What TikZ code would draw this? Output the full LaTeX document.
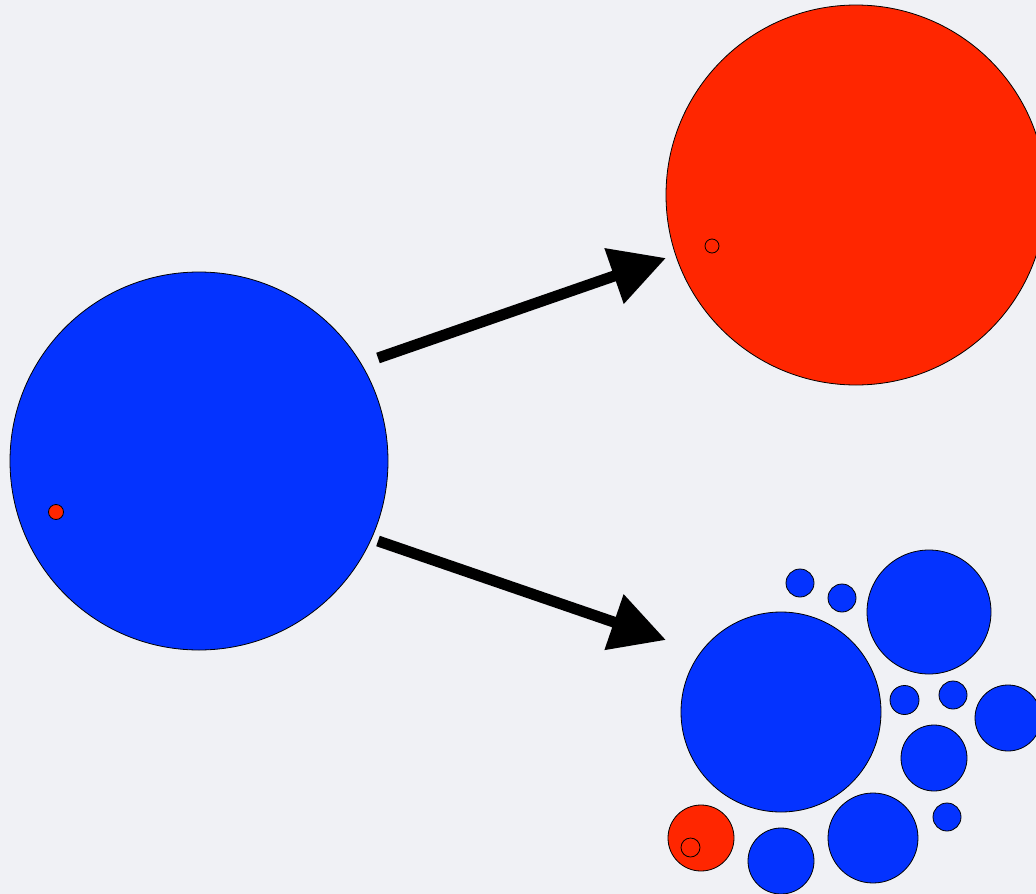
\documentclass[tikz,border=0pt]{standalone}
\usetikzlibrary{arrows.meta}
\definecolor{bgcol}{HTML}{F0F1F5}
\definecolor{bluefill}{HTML}{0433FF}
\definecolor{redfill}{HTML}{FF2600}
\tikzset{
  bluedisc/.style={circle, draw=black, line width=0.8pt, fill=bluefill, inner sep=0pt, minimum size=#1},
  reddisc/.style={circle, draw=black, line width=0.8pt, fill=redfill, inner sep=0pt, minimum size=#1},
  ring/.style={circle, draw=black, line width=0.8pt, inner sep=0pt, minimum size=#1},
  bigarrow/.style={line width=11pt, -{Triangle[length=55pt, width=56pt]}},
}
\begin{document}
\begin{tikzpicture}[x=1pt, y=-1pt]
  \fill[bgcol] (0,0) rectangle (1036,894);
  \useasboundingbox (0,0) rectangle (1036,894);
  \begin{scope}
    \clip (0,0) rectangle (1036,894);
    % source population
    \node[bluedisc=378pt] (src) at (199,461) {};
    \node[reddisc=15pt] (srcdot) at (56,512) {};
    % upper outcome
    \node[reddisc=380pt] (top) at (856,195) {};
    \node[ring=14pt] (topdot) at (712,246) {};
    % lower outcome: scattered pieces
    \node[bluedisc=200pt] (b1) at (781,712) {};
    \node[bluedisc=124pt] (b2) at (929,612) {};
    \node[bluedisc=28pt] (b3) at (800,583) {};
    \node[bluedisc=28pt] (b4) at (842,598) {};
    \node[bluedisc=29pt] (b5) at (904.5,700) {};
    \node[bluedisc=28pt] (b6) at (953,695) {};
    \node[bluedisc=66pt] (b7) at (1008,718) {};
    \node[bluedisc=66pt] (b8) at (934,758) {};
    \node[bluedisc=28pt] (b9) at (947,817) {};
    \node[bluedisc=90pt] (b10) at (873,838) {};
    \node[bluedisc=66pt] (b11) at (781,861) {};
    \node[reddisc=66pt] (r1) at (701,838) {};
    \node[ring=19pt] (r1dot) at (690.5,847.5) {};
    % arrows
    \coordinate (upfrom) at (378,358);
    \coordinate (upto) at (666,258);
    \coordinate (downfrom) at (378,541);
    \coordinate (downto) at (666,640);
    \draw[bigarrow] (upfrom) -- (upto);
    \draw[bigarrow] (downfrom) -- (downto);
  \end{scope}
\end{tikzpicture}
\end{document}
